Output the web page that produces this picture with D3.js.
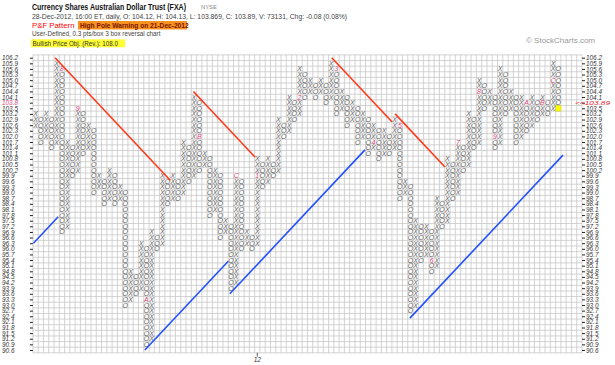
<!DOCTYPE html>
<html>
<head>
<meta charset="utf-8">
<script src="https://cdnjs.cloudflare.com/ajax/libs/d3/7.8.5/d3.min.js"></script>
<style>
body { margin: 0; background: #fff; }
text { font-family: Arial, "Liberation Sans", sans-serif; }
</style>
</head>
<body>
<svg width="615" height="365"></svg>
<script>
// point & figure columns (box size 0.3), low and high box of each column
const colType = ['X','O','X','O','X','O','X','O','X','O',
                 'X','O','X','O','X','O','X','O','X','O',
                 'X','O','X','O','X','O','X','O','X','O',
                 'X','O','X','O','X','O','X','O','X','O',
                 'X','O','X','O','X','O','X','O','X','O',
                 'X','O','X','O','X','O','X','O','X','O',
                 'X','O','X','O','X','O','X','O','X','O',
                 'X','O','X','O','X','O','X','O','X','O',
                 'X','O','X','O','X','O','X','O','X','O',
                 'X','O','X','O','X','O','X','O','X','O']
const colLow  = [102.6,101.7,102.0,101.4,101.7, 96.9, 97.2, 99.9,100.2,101.1,
                 101.4, 99.0, 99.3, 98.4, 98.7, 98.4, 98.7, 93.0, 93.3, 93.6,
                  93.9, 90.9, 91.2, 96.0, 96.3, 98.4, 98.7, 98.7, 99.0, 99.6,
                  99.9,100.2,100.5, 97.8, 98.1, 96.6, 96.9, 93.9, 94.2, 96.0,
                  96.3, 96.0, 96.3, 99.3, 99.6, 99.9,100.2,102.0,102.3,102.9,
                 103.2,104.1,104.4,104.1,104.4,103.8,104.1,103.2,103.5,102.6,
                 102.9,101.7,102.0,101.1,101.4,100.8,101.1,101.1,101.4, 98.7,
                  99.0, 92.7, 93.0, 95.4, 95.7, 94.8, 95.1, 97.2, 97.5, 98.7,
                  99.0,100.2,100.5,101.4,101.7,103.5,103.8,101.4,101.7,103.2,
                 103.5,101.7,102.0,102.3,102.6,102.9,103.2,103.2,103.5,103.8]
const colHigh = [103.2,102.9,103.2,102.9,105.9,105.6,101.7,101.4,103.5,103.2,
                 102.6,102.3, 99.9, 99.6,100.2, 99.9, 99.3, 99.0, 94.8, 94.5,
                  96.3, 96.0, 96.9, 96.6, 99.9, 99.6, 99.9, 99.6,101.7,101.4,
                 104.1,103.8,101.1,100.8,100.2, 99.9, 97.5, 97.2, 99.9, 99.6,
                  96.9, 96.6,100.8,100.5,100.8,100.5,102.9,102.6,104.1,103.8,
                 105.6,105.3,105.0,104.7,105.0,104.7,105.9,105.6,104.4,104.1,
                 103.8,103.5,103.2,102.9,102.6,102.3,102.3,102.0,102.9,102.6,
                  99.6, 99.3, 97.5, 97.2, 97.2, 96.9, 98.7, 98.4,100.8,100.5,
                 101.7,101.4,103.2,102.9,105.0,104.7,104.4,104.1,105.6,105.3,
                 104.4,104.1,104.1,103.8,104.1,103.8,104.1,103.8,105.9,105.6]

// month markers (first box of each month)
const markCol   = [5, 8, 21, 31, 38, 42, 50, 57, 64, 69, 75, 80, 84, 87, 93, 96, 98]
const markPrice = [105.6, 103.5, 93.3, 102.0, 99.9, 99.9, 104.1, 105.6, 101.7, 102.6, 95.4, 101.7, 104.4, 102.0, 103.8, 103.8, 105.0]
const markText  = ['8','9','A','B','C','1','2','3','4','5','6','7','8','9','A','B','C']

// trend lines: start column, start price, end column
const redStart  = [[3.7, 106.2], [29.9, 104.4], [56.1, 106.2], [68.1, 103.2]]
const redEnd    = [25.5, 41.6, 67.5, 77.5]
const blueStart = [[-0.4, 96.3], [20.7, 90.6], [36.8, 93.6], [70.9, 92.3]]
const blueEnd   = [4.3, 36.5, 62.4, 99.9]

const priceLabels = ['106.2','105.9','105.6','105.3','105.0','104.7','104.4','104.1','103.8','103.5','103.2','102.9','102.6','102.3','102.0','101.7','101.4','101.1','100.8','100.5','100.2','99.9','99.6','99.3','99.0','98.7','98.4','98.1','97.8','97.5','97.2','96.9','96.6','96.3','96.0','95.7','95.4','95.1','94.8','94.5','94.2','93.9','93.6','93.3','93.0','92.7','92.4','92.1','91.8','91.5','91.2','90.9','90.6']
const lastPrice = 103.89
const lastCol = 99
const lastBox = 103.5
const yearCol = 42
const nCols = 104
const box = 0.3

const svg = d3.select('svg')

const x = d3.scaleLinear().domain([-0.5, nCols - 0.5]).range([32.9, 582])
const y = d3.scaleLinear().domain([90.45, 106.35]).range([352.8, 54.9])

// header
svg.append('text').attr('x', 32).attr('y', 9.8)
    .attr('font-size', 8.8).attr('font-weight', 'bold').attr('fill', '#111')
    .attr('textLength', 154).attr('lengthAdjust', 'spacingAndGlyphs')
    .text('Currency Shares Australian Dollar Trust (FXA)')
svg.append('text').attr('x', 201).attr('y', 9)
    .attr('font-size', 5.8).attr('fill', '#888').text('NYSE')
svg.append('text').attr('x', 32).attr('y', 18.6)
    .attr('font-size', 6.8).attr('fill', '#444')
    .text('28-Dec-2012, 16:00 ET, daily, O: 104.12, H: 104.13, L: 103.869, C: 103.89, V: 73131, Chg: -0.08 (0.08%)')
svg.append('text').attr('x', 32).attr('y', 27.5)
    .attr('font-size', 7.8).attr('fill', '#ff0000').text('P&F Pattern')
svg.append('rect').attr('x', 78).attr('y', 21).attr('width', 109).attr('height', 8.5)
    .attr('fill', '#f7931e')
svg.append('text').attr('x', 80).attr('y', 27.6)
    .attr('font-size', 6.6).attr('font-weight', 'bold').attr('fill', '#7a1500')
    .text('High Pole Warning on 21-Dec-2012')
svg.append('text').attr('x', 32).attr('y', 36.3)
    .attr('font-size', 6.3).attr('fill', '#444')
    .text('User-Defined, 0.3 pts/box 3 box reversal chart')
svg.append('rect').attr('x', 31).attr('y', 39.3).attr('width', 94).attr('height', 8)
    .attr('fill', '#ffff33')
svg.append('text').attr('x', 32.5).attr('y', 45.8)
    .attr('font-size', 6.3).attr('fill', '#333')
    .text('Bullish Price Obj. (Rev.): 108.0')
svg.append('text').attr('x', 595).attr('y', 42.5).attr('text-anchor', 'end')
    .attr('font-size', 8).attr('fill', '#999').text('\u00a9 StockCharts.com')

// grid
const grid = svg.append('g')
grid.selectAll('line.v')
    .data(d3.range(nCols + 1))
    .join('line')
        .attr('x1', d => x(d - 0.5)).attr('x2', d => x(d - 0.5))
        .attr('y1', y(106.35)).attr('y2', y(90.45))
        .attr('stroke', '#c8c8c8').attr('stroke-width', 0.8)
grid.selectAll('line.h')
    .data(d3.range(priceLabels.length + 1))
    .join('line')
        .attr('x1', x(-0.5)).attr('x2', x(nCols - 0.5))
        .attr('y1', d => y(90.45 + d * box)).attr('y2', d => y(90.45 + d * box))
        .attr('stroke', '#c8c8c8').attr('stroke-width', 0.8)

// axes
const prices = priceLabels.map(Number)
const leftAxis = svg.append('g')
    .attr('transform', `translate(${x(-0.5)},0)`)
    .call(d3.axisLeft(y).tickValues(prices).tickFormat((d, i) => priceLabels[i]).tickSize(3).tickPadding(0))
leftAxis.select('.domain').remove()
leftAxis.selectAll('line').attr('stroke', '#222')
leftAxis.selectAll('text')
    .attr('x', 2 - x(-0.5)).attr('text-anchor', 'start')
    .attr('font-size', 6.4).attr('font-style', 'italic').attr('font-family', 'Arial')
    .attr('fill', d => d === 103.8 ? '#e0407a' : '#333')

const rightAxis = svg.append('g')
    .attr('transform', `translate(${x(nCols - 0.5)},0)`)
    .call(d3.axisRight(y).tickValues(prices).tickFormat((d, i) => priceLabels[i]).tickSize(3).tickPadding(0))
rightAxis.select('.domain').remove()
rightAxis.selectAll('line').attr('stroke', '#222')
rightAxis.selectAll('text')
    .attr('x', 4).attr('font-size', 6.4).attr('font-style', 'italic').attr('font-family', 'Arial')
    .attr('fill', '#333')
    .text(d => d === 103.8 ? '' : d.toFixed(1))
svg.append('text')
    .attr('x', 575).attr('y', y(103.8) + 2.6)
    .attr('font-size', 6.2).attr('font-style', 'italic').attr('fill', '#e8202a')
    .attr('textLength', 35).attr('lengthAdjust', 'spacingAndGlyphs')
    .text('<<' + lastPrice)

// year marker
svg.append('line').attr('x1', x(yearCol)).attr('x2', x(yearCol)).attr('y1', 352.8).attr('y2', 356.5)
    .attr('stroke', '#555')
svg.append('text').attr('x', x(yearCol)).attr('y', 362).attr('text-anchor', 'middle')
    .attr('font-size', 6.5).attr('font-style', 'italic').attr('fill', '#333').text('12')

// current price box
svg.append('rect')
    .attr('x', x(lastCol - 0.5)).attr('y', y(lastBox + box / 2))
    .attr('width', x(1) - x(0)).attr('height', y(lastBox - box / 2) - y(lastBox + box / 2))
    .attr('fill', '#ffff00').attr('stroke', '#cccc00').attr('stroke-width', 0.5)

// boxes
const cells = []
colType.forEach((t, c) => {
    const n = Math.round((colHigh[c] - colLow[c]) / box)
    for (let i = 0; i <= n; i++) {
        const p = +(colLow[c] + i * box).toFixed(1)
        const m = markCol.findIndex((mc, j) => mc === c && markPrice[j] === p)
        cells.push({ c, p, t: m >= 0 ? markText[m] : t, mark: m >= 0 })
    }
})
svg.append('g').selectAll('text')
    .data(cells)
    .join('text')
        .attr('x', d => x(d.c))
        .attr('y', d => y(d.p) + 2.5)
        .attr('text-anchor', 'middle')
        .attr('font-size', 7)
        .attr('font-style', 'italic')
        .attr('fill', d => d.mark ? '#e0407a' : '#666')
        .text(d => d.t)

// trend lines
const lines = svg.append('g')
redStart.forEach((s, i) => {
    lines.append('line')
        .attr('x1', x(s[0])).attr('y1', y(s[1]))
        .attr('x2', x(redEnd[i])).attr('y2', y(s[1] - (redEnd[i] - s[0]) * box))
        .attr('stroke', '#ff3a1a').attr('stroke-width', 1.6)
})
blueStart.forEach((s, i) => {
    lines.append('line')
        .attr('x1', x(s[0])).attr('y1', y(s[1]))
        .attr('x2', x(blueEnd[i])).attr('y2', y(s[1] + (blueEnd[i] - s[0]) * box))
        .attr('stroke', '#2250ff').attr('stroke-width', 1.6)
})
</script>
</body>
</html>
